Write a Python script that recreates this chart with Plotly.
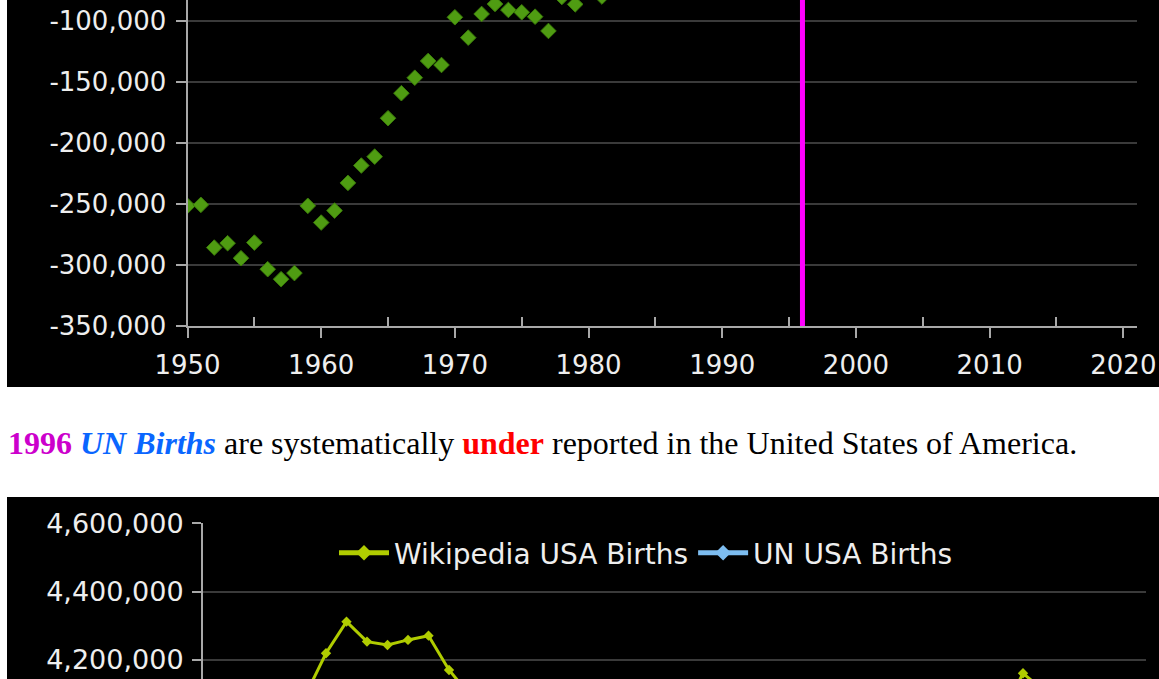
import plotly.graph_objects as go

# ---------------- data ----------------
# Top chart: UN births minus Wikipedia births (difference), by year
diff_years = [1950, 1951, 1952, 1953, 1954, 1955, 1956, 1957, 1958, 1959,
              1960, 1961, 1962, 1963, 1964, 1965, 1966, 1967, 1968, 1969,
              1970, 1971, 1972, 1973, 1974, 1975, 1976, 1977, 1978, 1979, 1981]
diff_values = [-251700, -250900, -285900, -282300, -294600, -281800, -303600, -311800, -306800, -251700,
               -265400, -255600, -232900, -218700, -211400, -179900, -159400, -146700, -133000, -136300,
               -97200, -113900, -94500, -86300, -91200, -93100, -96700, -108400, -80600, -86600, -80200]
highlight_year = 1996

top_ytick_vals = [-350000, -300000, -250000, -200000, -150000, -100000]
top_ytick_text = ["-350,000", "-300,000", "-250,000", "-200,000", "-150,000", "-100,000"]
top_xtick_vals = [1950, 1960, 1970, 1980, 1990, 2000, 2010, 2020]
top_xtick_text = ["1950", "1960", "1970", "1980", "1990", "2000", "2010", "2020"]
top_xminor_vals = [1955, 1965, 1975, 1985, 1995, 2005, 2015]

# Bottom chart: births
wiki_years = list(range(1950, 1997))
wiki_births = [3632000, 3823000, 3913000, 3965000, 4078000, 4097000, 4219600, 4312000, 4253600, 4243900,
               4258600, 4271000, 4170700, 4098000, 4027000, 3760000, 3606000, 3521000, 3502000, 3600000,
               3731000, 3556000, 3258000, 3137000, 3160000, 3144000, 3168000, 3327000, 3333000, 3494000,
               3612000, 3629000, 3681000, 3639000, 3669000, 3761000, 3757000, 3809000, 3910000, 4041000,
               4161000, 4111000, 4065000, 4000000, 3953000, 3900000, 3891000]
un_years = list(range(1950, 1980))
un_births = [3380000, 3572000, 3627000, 3683000, 3783000, 3815000, 3916000, 4000000, 3947000, 3992000,
             3993000, 4015000, 3938000, 3879000, 3816000, 3580000, 3447000, 3374000, 3369000, 3464000,
             3634000, 3442000, 3164000, 3051000, 3069000, 3051000, 3071000, 3219000, 3252000, 3407000]

bot_ytick_vals = [4200000, 4400000, 4600000]
bot_ytick_text = ["4,200,000", "4,400,000", "4,600,000"]

# ---------------- styling ----------------
W, H = 1159, 679
label_font = dict(family="DejaVu Sans", size=26, color="#eeeeee")
bot_label_font = dict(family="DejaVu Sans", size=27, color="#eeeeee")
legend_font = dict(family="DejaVu Sans", size=28, color="#eeeeee")
grid_col = "#3a3a3a"
axis_col = "#a8a8a8"

fig = go.Figure()

fig.add_trace(go.Scatter(
    x=diff_years, y=diff_values, mode="markers",
    marker=dict(symbol="diamond", size=12, color="#4f9c12",
                line=dict(color="#3a7a0a", width=1)),
    xaxis="x", yaxis="y", showlegend=False, cliponaxis=True))

fig.add_trace(go.Scatter(
    x=wiki_years, y=wiki_births, mode="lines+markers", name="Wikipedia USA Births",
    line=dict(color="#b0cc00", width=3),
    marker=dict(symbol="diamond", size=8, color="#b0cc00"),
    xaxis="x2", yaxis="y2"))

fig.add_trace(go.Scatter(
    x=un_years, y=un_births, mode="lines+markers", name="UN USA Births",
    line=dict(color="#7dbdf0", width=3),
    marker=dict(symbol="diamond", size=8, color="#7dbdf0"),
    xaxis="x2", yaxis="y2"))

# pixel helpers for layout placement
def px_x(p):
    return p / W

def px_y(p):
    return 1 - p / H

top_y_range = [-350150, -83050]
bot_y_range = [4144363, 4600300]

fig.update_layout(
    template="none",
    width=W, height=H,
    autosize=False,
    margin=dict(l=0, r=0, t=0, b=0, pad=0, autoexpand=False),
    paper_bgcolor="white",
    plot_bgcolor="black",
    xaxis=dict(domain=[px_x(187.5), px_x(1136.7)], range=[1950, 2021.0], anchor="y",
               automargin=False,
               showgrid=False, zeroline=False, showline=True, linecolor=axis_col, linewidth=2,
               tickmode="array", tickvals=top_xtick_vals, ticktext=top_xtick_text,
               ticks="outside", ticklen=10, tickwidth=2, tickcolor=axis_col,
               tickfont=label_font, ticklabelstandoff=5,
               minor=dict(tickvals=top_xminor_vals, ticks="inside", ticklen=9,
                          tickwidth=2, tickcolor=axis_col, showgrid=False)),
    yaxis=dict(domain=[px_y(326), 1], range=top_y_range, anchor="x",
               automargin=False,
               showgrid=True, gridcolor=grid_col, gridwidth=2, zeroline=False,
               showline=True, linecolor=axis_col, linewidth=2,
               tickmode="array", tickvals=top_ytick_vals, ticktext=top_ytick_text,
               ticks="outside", ticklen=10, tickwidth=2, tickcolor=axis_col,
               tickfont=label_font, ticklabelstandoff=4),
    xaxis2=dict(domain=[px_x(203), px_x(1146)], range=[1950, 1996], anchor="y2",
                automargin=False,
                showgrid=False, zeroline=False, showline=False, showticklabels=False, ticks=""),
    yaxis2=dict(domain=[0, px_y(523)], range=bot_y_range, anchor="x2",
                automargin=False,
                showgrid=True, gridcolor=grid_col, gridwidth=2, zeroline=False,
                showline=True, linecolor=axis_col, linewidth=2,
                tickmode="array", tickvals=bot_ytick_vals, ticktext=bot_ytick_text,
                ticks="outside", ticklen=9, tickwidth=2, tickcolor=axis_col,
                tickfont=bot_label_font, ticklabelstandoff=3),
    legend=dict(orientation="h", x=px_x(646), xanchor="center", y=px_y(553), yanchor="middle",
                bgcolor="rgba(0,0,0,0)", font=legend_font, itemwidth=50, itemsizing="constant"),
    shapes=[
        dict(type="rect", xref="paper", yref="paper", x0=px_x(7), x1=1, y0=px_y(387), y1=1,
             fillcolor="black", line=dict(width=0), layer="below"),
        dict(type="rect", xref="paper", yref="paper", x0=px_x(7), x1=1, y0=0, y1=px_y(497),
             fillcolor="black", line=dict(width=0), layer="below"),
        dict(type="line", xref="x", yref="y domain", x0=highlight_year, x1=highlight_year,
             y0=0, y1=1, line=dict(color="#ff00ff", width=5)),
    ],
    annotations=[
        dict(xref="paper", yref="paper", x=px_x(6), y=px_y(443), xanchor="left", yanchor="middle",
             showarrow=False,
             font=dict(family="Liberation Serif", size=32, color="black"),
             text=("<b><span style='color:#cc00cc'>1996</span></b> "
                   "<b><i><span style='color:#0a66ff'>UN Births</span></i></b> "
                   "are systematically "
                   "<b><span style='color:#ff0000'>under</span></b> "
                   "reported in the United States of America.")),
    ],
)

fig.write_html("out.html", config={"displayModeBar": False},
               post_script="document.body.style.margin='0';document.body.style.padding='0';")
